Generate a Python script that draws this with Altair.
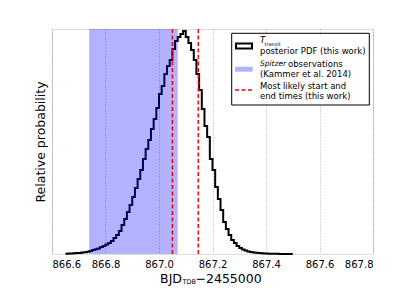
import altair as alt
import pandas as pd

# ---- data ----
bin_start = 866.65
bin_width = 0.01
heights = [0.3, 0.4, 0.5, 0.7, 0.9, 1.1, 1.4, 1.8, 2.3, 3,
           4, 4.8, 5.5, 7, 8, 9.5, 11, 13, 16, 19,
           23, 29, 35, 42, 49, 57, 66, 75, 84, 95,
           105, 114, 125, 135, 146, 160, 168, 180, 188, 194,
           205, 213, 217, 220, 223, 217, 211, 204, 194, 180,
           164, 145, 128, 117, 95, 84, 67, 55, 44, 32,
           25, 19, 14, 11, 8, 6, 4.5, 3.5, 2.5, 2,
           1.5, 1.2, 0.9, 0.7, 0.5, 0.4, 0.3, 0.25, 0.2, 0.15,
           0.1, 0.1, 0.05, 0.05, 0.03]
spitzer_start = 866.739
spitzer_end = 867.07
likely_times = [867.05, 867.147]
x_ticks = [866.6, 866.8, 867.0, 867.2, 867.4, 867.6, 867.8]

edges = [round(bin_start + i * bin_width, 3) for i in range(len(heights) + 1)]
hist = pd.DataFrame({"t": edges, "p": heights + [heights[-1]]})
span = pd.DataFrame({"t0": [spitzer_start], "t1": [spitzer_end]})
rules = pd.DataFrame({"t": likely_times})

FONT = "DejaVu Sans"
W, H = 321, 225
xscale = alt.Scale(domain=[866.6, 867.8], nice=False)
yscale = alt.Scale(domain=[0, 225], nice=False)

xaxis = alt.Axis(values=x_ticks, format=".1f", title=None, ticks=False,
                 labelPadding=5, labelFontSize=10, labelColor="black",
                 labelFont=FONT, domain=False, grid=True, gridColor="black",
                 gridDash=[1, 2], gridWidth=0.6, gridOpacity=0.55)
yaxis = alt.Axis(title="Relative probability", labels=False, ticks=False,
                 domain=False, grid=False, titleFont=FONT, titleFontSize=12.5,
                 titleFontWeight="normal", titleColor="black", titlePadding=5)

line = alt.Chart(hist).mark_line(interpolate="step-after", color="black",
                                 strokeWidth=2).encode(
    x=alt.X("t:Q", scale=xscale, axis=xaxis),
    y=alt.Y("p:Q", scale=yscale, axis=yaxis),
)

band = alt.Chart(span).mark_rect(color="#0000ff", opacity=0.3).encode(
    x=alt.X("t0:Q", scale=xscale), x2="t1:Q",
    y=alt.value(0), y2=alt.value(H),
)

red = alt.Chart(rules).mark_rule(color="red", strokeWidth=1.5,
                                 strokeDash=[4, 2.5]).encode(
    x=alt.X("t:Q", scale=xscale),
)

one = alt.Data(values=[{}])

def txt(s, x, y, size=8.5, style="normal", align="left", baseline="middle",
        font=FONT):
    return alt.Chart(one).mark_text(text=s, font=font, fontSize=size,
                                    fontStyle=style, align=align,
                                    baseline=baseline, color="black").encode(
        x=alt.value(x), y=alt.value(y))

# legend box
lx0, lx1, ly0, ly1 = 179.7, 317.3, 4.3, 76
legend_box = alt.Chart(one).mark_rect(fill="white", stroke="black",
                                      strokeWidth=1).encode(
    x=alt.value(lx0), x2=alt.value(lx1), y=alt.value(ly0), y2=alt.value(ly1))
h1 = alt.Chart(one).mark_rect(fill="white", stroke="black", strokeWidth=2).encode(
    x=alt.value(184), x2=alt.value(200), y=alt.value(14.5), y2=alt.value(19.5))
h2 = alt.Chart(one).mark_rect(fill="#0000ff", opacity=0.3).encode(
    x=alt.value(183), x2=alt.value(200.7), y=alt.value(37.7), y2=alt.value(42.7))
h3 = alt.Chart(one).mark_rule(color="red", strokeWidth=1.5, strokeDash=[4, 2.5]).encode(
    x=alt.value(183), x2=alt.value(200.7), y=alt.value(61))

tx = 208
legend_text = [
    txt("T", tx, 11, size=8.5, style="italic"),
    txt("transit", tx + 4.5, 14.5, size=5),
    txt("posterior PDF (this work)", tx, 21.7),
    txt("Spitzer", tx, 35, size=7.5, style="italic"),
    txt("observations", tx + 28, 35),
    txt("(Kammer et al. 2014)", tx, 44.5),
    txt("Most likely start and", tx, 57),
    txt("end times (this work)", tx, 67),
]

# x-axis title with subscript
xt = [
    txt("BJD", 130, 254, size=12.5, align="right", baseline="alphabetic"),
    txt("TDB", 130.5, 254.5, size=6.5, baseline="alphabetic"),
    txt("\u22122455000", 143.5, 254, size=12.5, baseline="alphabetic"),
]

chart = alt.layer(line, band, red, legend_box, h1, h2, h3,
                  *legend_text, *xt).properties(
    width=W, height=H,
    autosize=alt.AutoSizeParams(type="none"),
    padding={"left": 44, "top": 21, "right": 30, "bottom": 40},
).configure_view(stroke="black", strokeWidth=1).configure(background="white")

chart.save("out.html", embed_options={"renderer": "svg", "actions": False})
